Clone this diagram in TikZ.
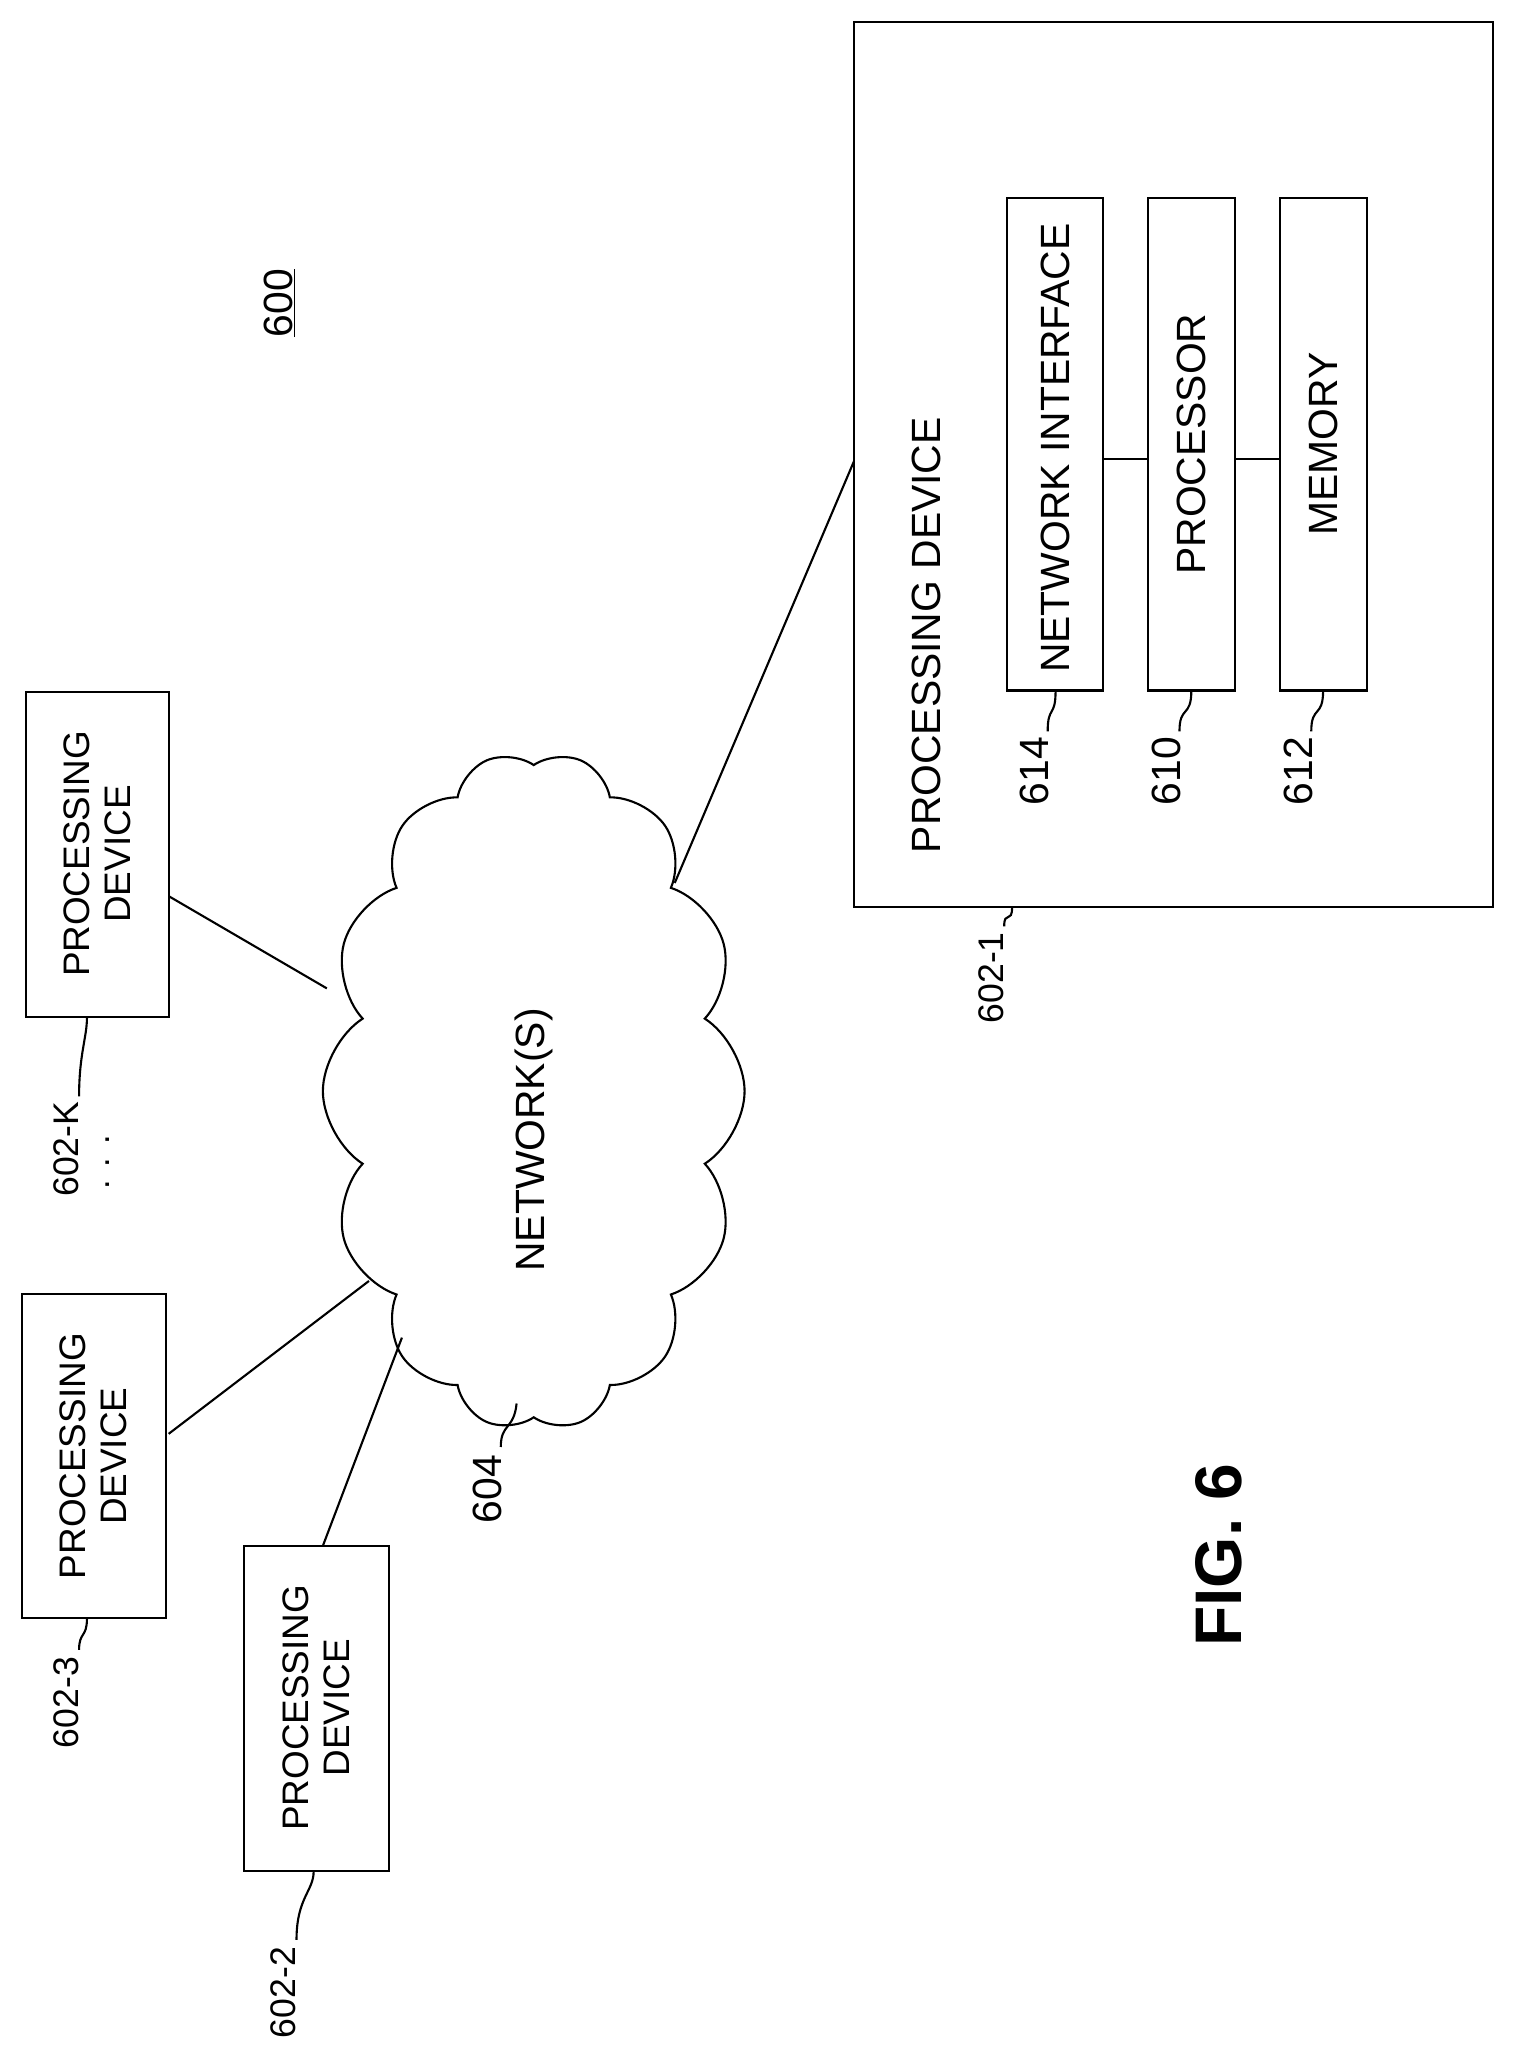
\documentclass[tikz,border=0pt]{standalone}
\usepackage{fontspec}
\setmainfont{Liberation Sans}
\usetikzlibrary{shapes.symbols}
\begin{document}
\begin{tikzpicture}[x=1pt,y=-1pt,line width=1.6pt,
 box/.style={draw,line width=1.6pt},
 lbl/.style={font=\fontsize{27}{30}\selectfont,rotate=90,inner sep=1pt},
 blbl/.style={font=\fontsize{31}{34}\selectfont,rotate=90,inner sep=1pt},
 txt/.style={font=\fontsize{28}{31}\selectfont,rotate=90,align=center},
 btxt/.style={font=\fontsize{31}{34}\selectfont,rotate=90,align=center}]
\useasboundingbox (0,0) rectangle (1150,1570);
% big box
\draw[box] (648,17) rectangle (1133,688);
\node[btxt] (pd1) at (703,482) {PROCESSING DEVICE};
\draw[box] (764,150) rectangle (837,524); \node[btxt] (ni) at (801,340) {NETWORK INTERFACE};
\draw[box] (871,150) rectangle (937,524); \node[btxt] (pr) at (904,337) {PROCESSOR};
\draw[box] (971,150) rectangle (1037,524); \node[btxt] (me) at (1004,337) {MEMORY};
\draw (837,348) -- (871,348); \draw (937,348) -- (971,348);
\node[blbl] (l614) at (785,585) {614}; \draw (795,555) .. controls (795,535) and (801,545) .. (801,524);
\node[blbl] (l610) at (885,585) {610}; \draw (895,555) .. controls (895,535) and (904,545) .. (904,524);
\node[blbl] (l612) at (985,585) {612}; \draw (995,555) .. controls (995,535) and (1004,545) .. (1004,524);
\node[lbl] (l6021) at (752,742) {602-1}; \draw (762,703) .. controls (762,690) and (768,702) .. (768,688);
\node[blbl] (l600) at (212,230) {\underline{600}};
% cloud
\node[draw,shape=cloud,cloud puffs=14,cloud puff arc=115,aspect=1.6,minimum width=515,minimum height=320,rotate=90,line width=1.6pt] (net) at (405,828) {};
\node[btxt] at (405,865) {NETWORK(S)};
% small boxes
\draw[box] (20,525) rectangle (128,772); \node[txt] (pk) at (74,648) {PROCESSING\\DEVICE};
\draw[box] (17,982) rectangle (126,1228); \node[txt] (p3) at (71,1105) {PROCESSING\\DEVICE};
\draw[box] (185,1173) rectangle (295,1420); \node[txt] (p2) at (240,1296) {PROCESSING\\DEVICE};
\node[lbl] (lk) at (50,872) {602-K}; \draw (60,832) .. controls (60,800) and (66,787) .. (66,772);
\node[font=\fontsize{26}{28}\selectfont,rotate=90] at (82,882) {. . .};
\node[lbl] (l3) at (50,1292) {602-3}; \draw (60,1252) .. controls (60,1238) and (66,1243) .. (66,1228);
\node[lbl] (l2) at (215,1512) {602-2}; \draw (225,1472) .. controls (225,1440) and (238,1435) .. (238,1420);
\node[blbl] (l604) at (370,1130) {604}; \draw (380,1098) .. controls (380,1080) and (390,1085) .. (392,1065);
\draw (128,680) -- (248,750);
\draw (128,1088) -- (280,972);
\draw (245,1173) -- (305,1015);
\draw (512,670) -- (648,350);
\node[font=\bfseries\fontsize{50}{54}\selectfont,rotate=90] (fig) at (925,1180) {FIG. 6};
\end{tikzpicture}
\end{document}
